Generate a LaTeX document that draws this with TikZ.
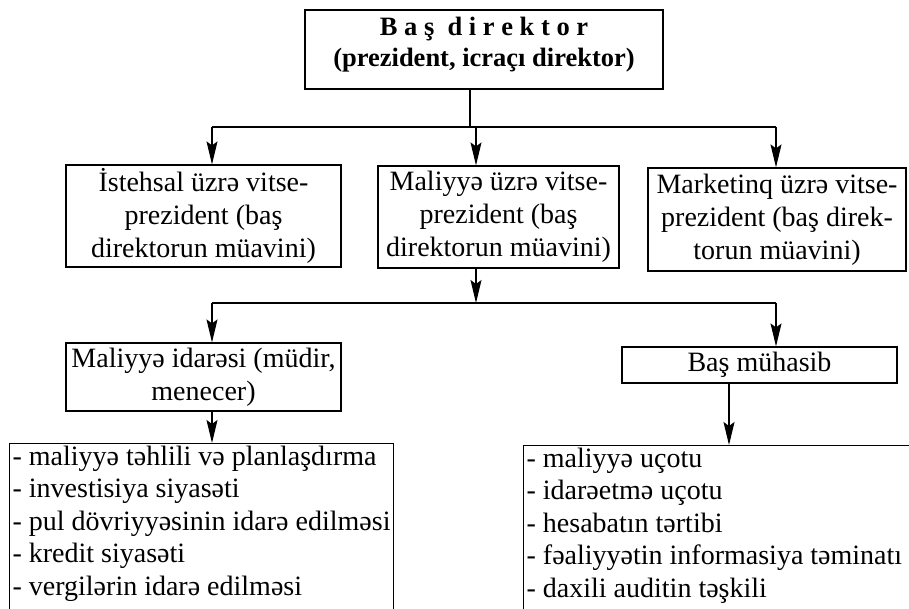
\documentclass[tikz,border=0pt]{standalone}
\usepackage{fontspec}
\setmainfont{Liberation Serif}
\usetikzlibrary{arrows.meta}

\begin{document}
\begin{tikzpicture}[x=1pt,y=-1pt,line width=1.2pt,
  box/.style={draw,rectangle,inner sep=0pt,align=center,
    font=\fontsize{28}{33}\selectfont},
  bossbox/.style={draw,rectangle,inner xsep=0pt,inner ysep=4pt,
    font=\bfseries\fontsize{26.5}{31}\selectfont},
  listbox/.style={draw,rectangle,anchor=north west,inner xsep=3pt,inner ysep=2pt,
    font=\fontsize{28}{32.5}\selectfont},
  arr/.style={-{Stealth[length=23pt,width=11pt,inset=4pt]}}]
\useasboundingbox (0,0) rectangle (909,609);
\clip (0,0) rectangle (909,609);

\node[bossbox] (ceo) at (484,49.5)
  {\parbox[c][71pt][t]{358pt}{\vspace*{3pt}\centering B a ş\ \ d i r e k t o r\\(prezident, icraçı direktor)}};

\node[box,minimum width=275pt,minimum height=102pt] (vp1) at (203.5,216)
  {İstehsal üzrə vitse-\\prezident (baş\\direktorun müavini)};
\node[box,minimum width=241pt,minimum height=102pt] (vp2) at (498.5,217)
  {Maliyyə üzrə vitse-\\prezident (baş\\direktorun müavini)};
\node[box,minimum width=258pt,minimum height=103pt] (vp3) at (777,219.5)
  {Marketinq üzrə vitse-\\prezident (baş direk-\\torun müavini)};

\node[box,minimum width=275pt,minimum height=68pt] (fin) at (203.5,377)
  {Maliyyə idarəsi (müdir,\\menecer)};
\node[box,minimum width=275pt,minimum height=36pt] (acc) at (759.5,365)
  {Baş mühasib};

\node[listbox] (finlist) at (9,443)
  {\parbox[t][200pt][t]{378pt}{- maliyyə təhlili və planlaşdırma\\
  - investisiya siyasəti\\- pul dövriyyəsinin idarə edilməsi\\
  - kredit siyasəti\\- vergilərin idarə edilməsi}};
\node[listbox] (acclist) at (523,445)
  {\parbox[t][200pt][t]{420pt}{- maliyyə uçotu\\- idarəetmə uçotu\\
  - hesabatın tərtibi\\- fəaliyyətin informasiya təminatı\\
  - daxili auditin təşkili}};

% first level
\coordinate (t) at (470,127);
\coordinate (l1) at (212,127);
\coordinate (m1) at (476,127);
\coordinate (r1) at (776,127);
\draw (ceo.south -| t) -- (t);
\draw (l1) -- (r1);
\draw[arr] (l1) -- (vp1.north -| l1);
\draw[arr] (m1) -- (vp2.north -| m1);
\draw[arr] (r1) -- (vp3.north -| r1);

% second level
\coordinate (l2) at (212,303);
\coordinate (m2) at (476,303);
\coordinate (r2) at (776,303);
\draw[arr] (vp2.south -| m2) -- (m2);
\draw (l2) -- (r2);
\draw[arr] (l2) -- (fin.north -| l2);
\draw[arr] (r2) -- (acc.north -| r2);

% lists
\coordinate (d) at (729,420);
\draw[arr] (fin.south -| l2) -- (finlist.north -| l2);
\draw[arr] (acc.south -| d) -- (acclist.north -| d);
\end{tikzpicture}
\end{document}
